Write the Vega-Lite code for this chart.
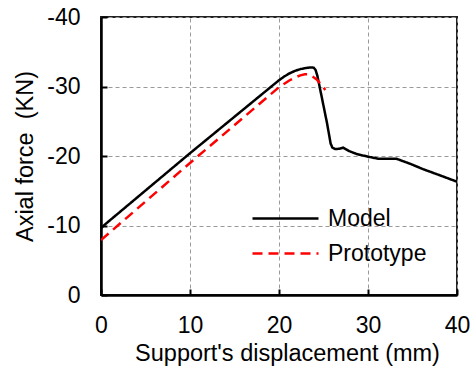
{
  "$schema": "https://vega.github.io/schema/vega-lite/v6.json",
  "width": 356,
  "height": 278,
  "autosize": "none",
  "padding": {"left": 101, "top": 17, "right": 18, "bottom": 79},
  "background": "white",
  "config": {
    "font": "Liberation Sans",
    "view": {"stroke": "#222222", "strokeWidth": 2},
    "axis": {
      "labelFont": "Liberation Sans",
      "titleFont": "Liberation Sans",
      "labelFontSize": 23,
      "titleFontSize": 23.5,
      "labelColor": "black",
      "titleColor": "black",
      "titleFontWeight": "normal",
      "labelFlush": false,
      "domainColor": "black",
      "domainWidth": 2.5,
      "tickColor": "black",
      "tickWidth": 2,
      "tickSize": -6,
      "gridColor": "#9a9a9a",
      "gridDash": [4, 3],
      "gridWidth": 1
    }
  },
  "data": {
    "values": [
      {"disp": 0, "force": -9.6, "series": "Model"},
      {"disp": 0.4, "force": -10.1, "series": "Model"},
      {"disp": 10, "force": -20.4, "series": "Model"},
      {"disp": 20, "force": -30.9, "series": "Model"},
      {"disp": 20.6, "force": -31.45, "series": "Model"},
      {"disp": 21.2, "force": -31.9, "series": "Model"},
      {"disp": 21.8, "force": -32.25, "series": "Model"},
      {"disp": 22.4, "force": -32.5, "series": "Model"},
      {"disp": 23.0, "force": -32.65, "series": "Model"},
      {"disp": 23.6, "force": -32.75, "series": "Model"},
      {"disp": 23.9, "force": -32.7, "series": "Model"},
      {"disp": 24.1, "force": -32.4, "series": "Model"},
      {"disp": 24.3, "force": -31.6, "series": "Model"},
      {"disp": 24.8, "force": -28.5, "series": "Model"},
      {"disp": 25.4, "force": -24.7, "series": "Model"},
      {"disp": 25.8, "force": -21.8, "series": "Model"},
      {"disp": 26.0, "force": -21.2, "series": "Model"},
      {"disp": 26.3, "force": -21.0, "series": "Model"},
      {"disp": 26.8, "force": -21.05, "series": "Model"},
      {"disp": 27.2, "force": -21.2, "series": "Model"},
      {"disp": 27.9, "force": -20.7, "series": "Model"},
      {"disp": 28.7, "force": -20.3, "series": "Model"},
      {"disp": 30, "force": -19.9, "series": "Model"},
      {"disp": 31.2, "force": -19.6, "series": "Model"},
      {"disp": 33.2, "force": -19.6, "series": "Model"},
      {"disp": 34.7, "force": -18.9, "series": "Model"},
      {"disp": 36.2, "force": -18.1, "series": "Model"},
      {"disp": 37.7, "force": -17.4, "series": "Model"},
      {"disp": 40, "force": -16.3, "series": "Model"},
      {"disp": 0, "force": -7.9, "series": "Prototype"},
      {"disp": 10, "force": -19.0, "series": "Prototype"},
      {"disp": 20, "force": -29.9, "series": "Prototype"},
      {"disp": 20.6, "force": -30.4, "series": "Prototype"},
      {"disp": 21.2, "force": -30.9, "series": "Prototype"},
      {"disp": 21.8, "force": -31.3, "series": "Prototype"},
      {"disp": 22.4, "force": -31.6, "series": "Prototype"},
      {"disp": 22.9, "force": -31.75, "series": "Prototype"},
      {"disp": 23.3, "force": -31.75, "series": "Prototype"},
      {"disp": 23.7, "force": -31.5, "series": "Prototype"},
      {"disp": 24.2, "force": -31.05, "series": "Prototype"},
      {"disp": 24.6, "force": -30.5, "series": "Prototype"},
      {"disp": 25.2, "force": -29.5, "series": "Prototype"}
    ]
  },
  "mark": {"type": "line", "strokeWidth": 2.5, "clip": true},
  "encoding": {
    "x": {
      "field": "disp",
      "type": "quantitative",
      "scale": {"domain": [0, 40], "nice": false, "zero": false},
      "axis": {
        "values": [0, 10, 20, 30, 40],
        "title": "Support's displacement (mm)",
        "titleX": 186,
        "titlePadding": 4,
        "labelPadding": 25
      }
    },
    "y": {
      "field": "force",
      "type": "quantitative",
      "scale": {"domain": [-40, 0], "reverse": true, "nice": false},
      "axis": {
        "values": [0, -10, -20, -30, -40],
        "labelExpr": "datum.value == 0 ? '0' : '-' + abs(datum.value)",
        "title": "Axial force \u00a0(KN)",
        "titlePadding": 9,
        "labelPadding": 27
      }
    },
    "color": {
      "field": "series",
      "type": "nominal",
      "scale": {"domain": ["Model", "Prototype"], "range": ["black", "#ff0000"]},
      "legend": {
        "title": null,
        "orient": "none",
        "legendX": 150,
        "legendY": 184,
        "symbolType": "stroke",
        "symbolSize": 4356,
        "symbolStrokeWidth": 2.5,
        "clipHeight": 35,
        "labelFontSize": 23,
        "labelFont": "Liberation Sans",
        "labelColor": "black",
        "labelOffset": 8,
        "rowPadding": 0,
        "padding": 0
      }
    },
    "strokeDash": {
      "field": "series",
      "type": "nominal",
      "scale": {"domain": ["Model", "Prototype"], "range": [[1, 0], [10, 6]]},
      "legend": null
    }
  }
}
